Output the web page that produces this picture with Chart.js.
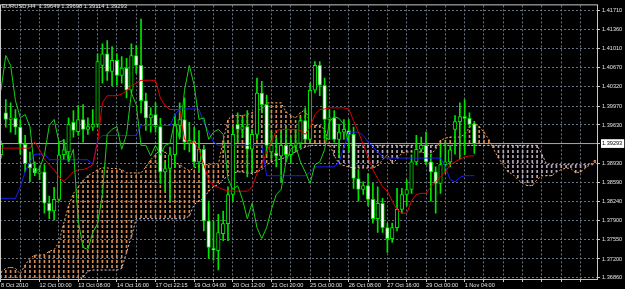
<!DOCTYPE html>
<html><head><meta charset="utf-8">
<script src="https://cdn.jsdelivr.net/npm/chart.js@4.4.1/dist/chart.umd.min.js"></script>
<style>
html,body{margin:0;padding:0;background:#000;}
#wrap{width:625px;height:289px;position:relative;background:#000;}
canvas{display:block;}
</style></head><body>
<div id="wrap"><canvas id="c" width="625" height="289"></canvas></div>
<script>
const symbolName = 'EURUSD,H4';
const dateLabels = ['8 Oct 2010','12 Oct 00:00','13 Oct 08:00','14 Oct 16:00','17 Oct 22:15','19 Oct 04:00','20 Oct 12:00','21 Oct 20:00','25 Oct 00:00','26 Oct 08:00','27 Oct 16:00','29 Oct 00:00','1 Nov 04:00'];
const dateLabelBars = [0,8,16,24,32,40,48,56,64,72,80,88,96];
const gridBars = [0,4,8,12,16,20,24,28,32,36,40,44,48,52,56,60,64,68,72,76,80,84,88,92,96,100,104,108,112,116,120];
const priceTicks = [1.41710,1.41360,1.41010,1.40670,1.40320,1.39970,1.39630,1.39293,1.38930,1.38590,1.38240,1.37900,1.37550,1.37200,1.36860];
const bidPrice = 1.39293;

const openP = [1.3909,1.3985,1.3973,1.3975,1.3959,1.3928,1.3893,1.3885,1.3875,1.3878,
 1.3821,1.3807,1.3828,1.3909,1.3914,1.3968,1.3951,1.3973,1.3955,1.3959,
 1.3964,1.4071,1.4092,1.4060,1.4080,1.4053,1.4066,1.4026,1.4089,1.4071,
 1.4007,1.3976,1.3982,1.3960,1.3878,1.3884,1.3909,1.3962,1.3973,1.3930,
 1.3934,1.3896,1.3919,1.3789,1.3739,1.3735,1.3766,1.3784,1.3837,1.3964,
 1.3955,1.3960,1.3919,1.3946,1.4021,1.4000,1.3914,1.3912,1.3907,1.3926,
 1.3909,1.3926,1.3930,1.3971,1.3937,1.4026,1.4071,1.4035,1.3973,1.3976,
 1.3937,1.3950,1.3953,1.3946,1.3866,1.3846,1.3853,1.3828,1.3793,1.3821,
 1.3777,1.3757,1.3777,1.3810,1.3837,1.3846,1.3896,1.3919,1.3926,1.3896,
 1.3878,1.3857,1.3891,1.3896,1.3955,1.3969,1.3978,1.3975,1.39649];
const highP = [1.3934,1.4009,1.4003,1.3991,1.3973,1.3944,1.3914,1.3896,1.3887,1.3891,
 1.3834,1.3850,1.3932,1.3937,1.3976,1.3989,1.3998,1.4000,1.3976,1.3991,
 1.4092,1.4110,1.4116,1.4105,1.4092,1.4087,1.4084,1.4110,1.4107,1.4155,
 1.4021,1.3994,1.4003,1.3975,1.3896,1.3923,1.3982,1.4003,1.4012,1.3968,
 1.3959,1.3953,1.3926,1.3825,1.3789,1.3801,1.3807,1.3851,1.3959,1.3985,
 1.3976,1.3989,1.3955,1.4048,1.4042,1.4017,1.3950,1.3941,1.3950,1.3959,
 1.3941,1.3955,1.3976,1.3994,1.4039,1.4078,1.4078,1.4048,1.3991,1.3989,
 1.3964,1.3973,1.3973,1.3959,1.3882,1.3860,1.3875,1.3857,1.3851,1.3830,
 1.3785,1.3785,1.3848,1.3848,1.3864,1.3909,1.3944,1.3941,1.3950,1.3910,
 1.3887,1.3928,1.3932,1.3926,1.3980,1.4003,1.4009,1.3985,1.39698];
const lowP = [1.3903,1.3959,1.3950,1.3946,1.3910,1.3878,1.3860,1.3871,1.3864,1.3803,
 1.3793,1.3791,1.3825,1.3900,1.3896,1.3941,1.3944,1.3932,1.3946,1.3953,
 1.3959,1.4039,1.4044,1.4034,1.4035,1.4039,1.4012,1.4021,1.4057,1.3985,
 1.3953,1.3950,1.3950,1.3857,1.3843,1.3825,1.3887,1.3941,1.3918,1.3914,
 1.3887,1.3878,1.3771,1.3721,1.3718,1.3700,1.3753,1.3753,1.3825,1.3932,
 1.3941,1.3869,1.3878,1.3937,1.3985,1.3909,1.3900,1.3887,1.3860,1.3896,
 1.3893,1.3914,1.3921,1.3932,1.3932,1.4021,1.4016,1.3937,1.3937,1.3932,
 1.3905,1.3937,1.3914,1.3848,1.3825,1.3837,1.3816,1.3785,1.3768,1.3768,
 1.3732,1.3750,1.3771,1.3803,1.3816,1.3839,1.3891,1.3914,1.3891,1.3825,
 1.3803,1.3839,1.3875,1.3887,1.3910,1.3901,1.3909,1.3959,1.39114];
const closeP = [1.3928,1.3973,1.3976,1.3959,1.3928,1.3893,1.3885,1.3876,1.3878,1.3821,
 1.3807,1.3828,1.3909,1.3918,1.3964,1.3953,1.3973,1.3955,1.3960,1.3964,
 1.4078,1.4092,1.4060,1.4080,1.4053,1.4066,1.4026,1.4089,1.4071,1.4007,
 1.3976,1.3982,1.3960,1.3878,1.3884,1.3909,1.3962,1.3973,1.3932,1.3935,
 1.3896,1.3919,1.3789,1.3741,1.3737,1.3768,1.3784,1.3837,1.3946,1.3955,
 1.3960,1.3919,1.3946,1.4021,1.4000,1.3926,1.3926,1.3907,1.3926,1.3909,
 1.3926,1.3930,1.3971,1.3937,1.4026,1.4071,1.4035,1.3973,1.3976,1.3937,
 1.3950,1.3955,1.3946,1.3866,1.3846,1.3853,1.3828,1.3793,1.3821,1.3777,
 1.3757,1.3777,1.3810,1.3837,1.3846,1.3896,1.3919,1.3926,1.3896,1.3878,
 1.3857,1.3891,1.3896,1.3918,1.3969,1.3978,1.3975,1.3964,1.39293];

const tenkan = [1.3921,1.3921,1.3921,1.3921,1.3921,1.3921,1.3921,1.3932,1.3918,1.3901,
 1.3891,1.3882,1.3869,1.3860,1.3869,1.3878,1.3882,1.3882,1.3885,1.3891,
 1.3932,1.4003,1.4016,1.4016,1.4016,1.4019,1.4025,1.4034,1.4039,1.4044,
 1.4044,1.4044,1.4044,1.4012,1.3998,1.3991,1.3991,1.3991,1.3937,1.3932,
 1.3932,1.3918,1.3891,1.3864,1.3853,1.3850,1.3846,1.3843,1.3843,1.3843,
 1.3843,1.3843,1.3851,1.3875,1.3891,1.3914,1.3932,1.3953,1.3955,1.3955,
 1.3955,1.3955,1.3953,1.3946,1.3959,1.3982,1.3991,1.3992,1.3994,1.3994,
 1.3994,1.3994,1.3992,1.3971,1.3950,1.3928,1.3905,1.3882,1.3866,1.3851,
 1.3843,1.3825,1.3810,1.3803,1.3803,1.3825,1.3837,1.3839,1.3839,1.3851,
 1.3860,1.3869,1.3878,1.3891,1.3896,1.3901,1.3905,1.3907,1.3907];
const kijun = [1.3830,1.3830,1.3830,1.3830,1.3851,1.3878,1.3896,1.3910,1.3910,1.3910,
 1.3900,1.3900,1.3900,1.3900,1.3900,1.3900,1.3900,1.3900,1.3900,1.3891,
 1.3935,1.3944,1.3944,1.3944,1.3944,1.3944,1.3944,1.3944,1.3944,1.3962,
 1.3962,1.3962,1.3962,1.3962,1.3962,1.3962,1.3982,1.3992,1.3992,1.3992,
 1.3992,1.3991,1.3968,1.3950,1.3932,1.3926,1.3926,1.3926,1.3926,1.3926,
 1.3926,1.3926,1.3926,1.3926,1.3926,1.3871,1.3871,1.3871,1.3871,1.3871,
 1.3871,1.3871,1.3871,1.3871,1.3878,1.3887,1.3887,1.3887,1.3887,1.3887,
 1.3896,1.3923,1.3950,1.3950,1.3950,1.3944,1.3932,1.3923,1.3914,1.3905,
 1.3903,1.3903,1.3903,1.3903,1.3903,1.3903,1.3903,1.3903,1.3903,1.3903,
 1.3903,1.3903,1.3887,1.3864,1.3860,1.3868,1.3871,1.3871,1.3871];
const chikou = [1.4026,1.4089,1.4071,1.4007,1.3976,1.3982,1.3960,1.3878,1.3884,1.3909,
 1.3962,1.3973,1.3932,1.3935,1.3896,1.3919,1.3789,1.3741,1.3737,1.3768,
 1.3784,1.3837,1.3946,1.3955,1.3960,1.3919,1.3946,1.4021,1.4000,1.3926,
 1.3926,1.3907,1.3926,1.3909,1.3926,1.3930,1.3971,1.3937,1.4026,1.4071,
 1.4035,1.3973,1.3976,1.3937,1.3950,1.3955,1.3946,1.3866,1.3846,1.3853,
 1.3828,1.3793,1.3821,1.3777,1.3757,1.3777,1.3810,1.3837,1.3846,1.3896,
 1.3919,1.3926,1.3896,1.3878,1.3857,1.3891,1.3896,1.3918,1.3969,1.3978,
 1.3975,1.3964,1.39293];
const spanA = [1.3696,1.3703,1.3705,1.3703,1.3693,1.3709,1.3721,1.3727,1.3727,1.3728,
 1.3734,1.3737,1.3750,1.3785,1.3816,1.3839,1.3850,1.3862,1.3871,1.3876,
 1.3882,1.3885,1.3885,1.3884,1.3884,1.3882,1.3876,1.3876,1.3876,1.3876,
 1.3887,1.3900,1.3909,1.3919,1.3914,1.3905,1.3896,1.3891,1.3885,1.3880,
 1.3885,1.3889,1.3891,1.3891,1.3893,1.3891,1.3934,1.3973,1.3980,1.3980,
 1.3980,1.3982,1.3985,1.3989,1.3992,1.4003,1.4003,1.4003,1.4003,1.3987,
 1.3980,1.3976,1.3985,1.3991,1.3966,1.3962,1.3962,1.3955,1.3930,1.3907,
 1.3893,1.3889,1.3887,1.3885,1.3885,1.3885,1.3885,1.3885,1.3889,1.3900,
 1.3909,1.3893,1.3901,1.3912,1.3914,1.3914,1.3914,1.3914,1.3912,1.3909,
 1.3919,1.3935,1.3939,1.3941,1.3941,1.3941,1.3946,1.3959,1.3966,1.3960,
 1.3950,1.3937,1.3919,1.3903,1.3891,1.3878,1.3873,1.3864,1.3857,1.3853,
 1.3853,1.3864,1.3871,1.3871,1.3871,1.3878,1.3882,1.3885,1.3884,1.3876,
 1.3878,1.3885,1.3891,1.3900];
const spanB = [1.3680,1.3680,1.3680,1.3680,1.3680,1.3680,1.3680,1.3680,1.3680,1.3680,
 1.3680,1.3680,1.3680,1.3680,1.3680,1.3680,1.3680,1.3687,1.3698,1.3700,
 1.3700,1.3700,1.3700,1.3700,1.3700,1.3703,1.3732,1.3760,1.3793,1.3793,
 1.3793,1.3793,1.3793,1.3793,1.3793,1.3793,1.3793,1.3793,1.3793,1.3798,
 1.3819,1.3825,1.3830,1.3843,1.3851,1.3855,1.3864,1.3871,1.3875,1.3878,
 1.3878,1.3876,1.3875,1.3878,1.3882,1.3891,1.3896,1.3900,1.3901,1.3905,
 1.3910,1.3914,1.3919,1.3923,1.3926,1.3926,1.3926,1.3926,1.3926,1.3926,
 1.3926,1.3926,1.3926,1.3926,1.3926,1.3926,1.3926,1.3926,1.3926,1.3926,
 1.3926,1.3926,1.3926,1.3926,1.3926,1.3926,1.3926,1.3926,1.3926,1.3926,
 1.3926,1.3926,1.3926,1.3926,1.3926,1.3926,1.3926,1.3926,1.3926,1.3926,
 1.3926,1.3926,1.3926,1.3926,1.3926,1.3926,1.3926,1.3926,1.3926,1.3926,
 1.3926,1.3926,1.3910,1.3891,1.3891,1.3891,1.3891,1.3891,1.3891,1.3891,
 1.3891,1.3891,1.3891,1.3891];

const FONT = {family: '"Liberation Sans", Arial, sans-serif', size: 5.6};
const TXT = '#e4e4e4';
const GRID = '#66727f';

function hatch(color) {
  const c = document.createElement('canvas'); c.width = 1; c.height = 5;
  const g = c.getContext('2d'); g.fillStyle = color; g.fillRect(0, 0, 1, 3);
  return g.createPattern(c, 'repeat');
}
const hatchUp = hatch('#d98a50');
const hatchDown = hatch('#b9a6b9');
const pts = arr => arr.map((v, i) => ({x: i, y: v}));
const isBid = v => Math.abs(v - bidPrice) < 1e-7;

const framePlugin = {
  id: 'frame',
  afterDraw(chart) {
    const {ctx, chartArea: a} = chart;
    ctx.save();
    ctx.strokeStyle = '#c8c8c8'; ctx.lineWidth = 1;
    ctx.strokeRect(a.left + 0.5, a.top - 0.5, a.right - a.left, a.bottom - a.top + 1);
    ctx.fillStyle = TXT;
    ctx.font = '5.8px "Liberation Sans", Arial, sans-serif';
    ctx.textBaseline = 'middle';
    const title = symbolName + '  ' + [openP, highP, lowP, closeP].map(a => a[a.length - 1].toFixed(5)).join(' ');
    ctx.fillText(title, 2, 6);
    ctx.restore();
  }
};

new Chart(document.getElementById('c'), {
  type: 'line',
  data: {
    datasets: [
      {type: 'line', label: 'Chikou', data: pts(chikou), borderColor: '#14d214', borderWidth: 1, pointRadius: 0, order: 1},
      {type: 'line', label: 'Tenkan', data: pts(tenkan), borderColor: '#e00000', borderWidth: 1, pointRadius: 0, order: 1},
      {type: 'line', label: 'Kijun', data: pts(kijun), borderColor: '#1c1cff', borderWidth: 1, pointRadius: 0, order: 1},
      {type: 'bar', label: 'Body', data: openP.map((o, i) => ({x: i, y: [o, closeP[i]]})),
        backgroundColor: c => closeP[c.dataIndex] < openP[c.dataIndex] ? '#ffffff' : '#000000',
        borderColor: '#00e400', borderWidth: 1, borderSkipped: false, barThickness: 3.6, grouped: false, order: 6},
      {type: 'bar', label: 'Wick', data: highP.map((h, i) => ({x: i, y: [lowP[i], h]})),
        backgroundColor: '#00e400', barThickness: 1, grouped: false, order: 7},
      {type: 'line', label: 'Bid', data: [{x: -1, y: bidPrice}, {x: 130, y: bidPrice}], borderColor: '#a8a8a8', borderWidth: 1, pointRadius: 0, order: 8},
      {type: 'line', label: 'SpanA', data: pts(spanA), borderColor: '#f4a460', borderWidth: 1, borderDash: [2, 2], pointRadius: 0, order: 9},
      {type: 'line', label: 'SpanB', data: pts(spanB), borderColor: '#d8bfd8', borderWidth: 1, borderDash: [2, 2], pointRadius: 0, order: 9},
      {type: 'bar', label: 'Cloud', data: spanA.map((a, i) => ({x: i, y: [spanB[i], a]})),
        backgroundColor: c => spanA[c.dataIndex] >= spanB[c.dataIndex] ? hatchUp : hatchDown,
        barThickness: 1, grouped: false, borderWidth: 0, order: 10}
    ]
  },
  options: {
    responsive: false, animation: false, devicePixelRatio: 1,
    layout: {padding: {top: 1, left: 0, right: 0, bottom: 0}},
    plugins: {legend: {display: false}, tooltip: {enabled: false}},
    events: [],
    scales: {
      x: {
        type: 'linear', min: -0.2, max: 123.4, offset: false, position: 'bottom',
        afterFit: s => { s.height = 10; },
        afterBuildTicks: s => { s.ticks = gridBars.map(v => ({value: v})); },
        grid: {color: GRID, lineWidth: 1, offset: false, drawTicks: true, tickLength: 3, tickColor: '#c8c8c8'},
        border: {display: false, dash: [2, 2]},
        ticks: {autoSkip: false, maxRotation: 0, minRotation: 0, align: 'start', padding: 0, color: TXT, font: FONT,
          callback: v => { const k = dateLabelBars.indexOf(v); return k >= 0 ? dateLabels[k] : ''; }}
      },
      y: {
        type: 'linear', position: 'right', min: 1.36837, max: 1.41799,
        afterFit: s => { s.width = 28; },
        afterBuildTicks: s => { s.ticks = priceTicks.map(v => ({value: v})); },
        grid: {color: c => (c.tick && isBid(c.tick.value)) ? 'rgba(0,0,0,0)' : GRID, lineWidth: 1, drawTicks: true, tickLength: 3, tickColor: '#c8c8c8'},
        border: {display: false, dash: [2, 2]},
        ticks: {padding: 2, font: FONT,
          color: c => (c.tick && isBid(c.tick.value)) ? '#000000' : TXT,
          showLabelBackdrop: c => !!(c.tick && isBid(c.tick.value)),
          backdropColor: '#ffffff', backdropPadding: {top: 1, bottom: 1, left: 1, right: 2},
          callback: v => v.toFixed(5)}
      }
    }
  },
  plugins: [framePlugin]
});
</script>
</body></html>
